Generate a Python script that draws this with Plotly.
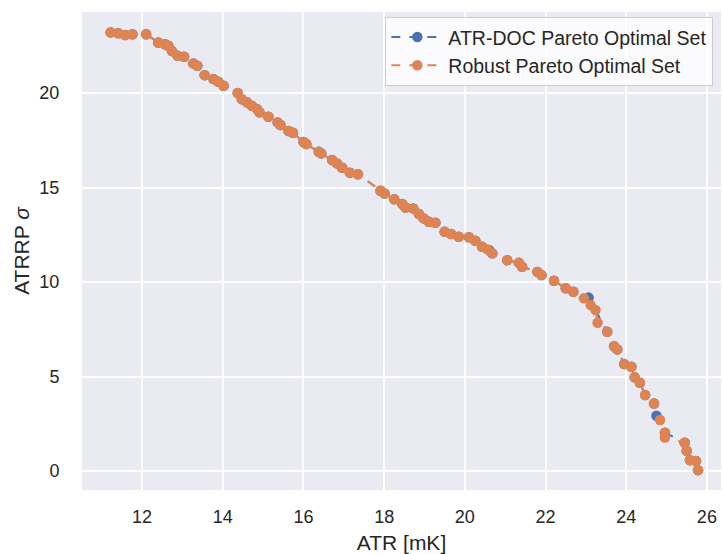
import plotly.graph_objects as go

# Robust Pareto optimal set (ATR in mK, ATRRP standard deviation)
robust_atr = [11.22, 11.41, 11.58, 11.76, 12.10, 12.40, 12.57, 12.65, 12.74, 12.88,
              13.04, 13.27, 13.37, 13.55, 13.77, 13.89, 14.02, 14.37, 14.47, 14.60,
              14.72, 14.85, 14.91, 15.13, 15.36, 15.43, 15.63, 15.74, 16.00, 16.07,
              16.38, 16.44, 16.71, 16.83, 16.96, 17.15, 17.35, 17.91, 18.01, 18.25,
              18.45, 18.53, 18.72, 18.86, 18.98, 19.11, 19.27, 19.50, 19.66, 19.85,
              20.10, 20.26, 20.43, 20.56, 20.68, 21.05, 21.34, 21.42, 21.80, 21.90,
              22.21, 22.50, 22.69, 22.95, 23.12, 23.24, 23.29, 23.53, 23.70, 23.78,
              23.95, 24.13, 24.21, 24.34, 24.47, 24.69, 24.84, 24.96, 24.96, 25.45,
              25.50, 25.58, 25.73, 25.78]
robust_sigma = [23.21, 23.16, 23.07, 23.11, 23.11, 22.68, 22.58, 22.50, 22.22, 21.97,
                21.92, 21.57, 21.44, 20.95, 20.74, 20.60, 20.39, 20.00, 19.68, 19.51,
                19.33, 19.15, 18.98, 18.75, 18.45, 18.31, 17.99, 17.90, 17.41, 17.30,
                16.89, 16.81, 16.46, 16.28, 16.05, 15.79, 15.71, 14.83, 14.69, 14.38,
                14.13, 13.95, 13.90, 13.60, 13.37, 13.19, 13.14, 12.66, 12.54, 12.40,
                12.37, 12.19, 11.87, 11.73, 11.52, 11.16, 11.02, 10.81, 10.54, 10.37,
                10.07, 9.67, 9.49, 9.14, 8.78, 8.52, 7.85, 7.37, 6.61, 6.44,
                5.66, 5.52, 4.96, 4.67, 4.02, 3.58, 2.70, 2.03, 1.78, 1.50,
                1.07, 0.58, 0.54, 0.05]

# ATR-DOC Pareto optimal set
doc_atr = [11.22, 11.41, 11.58, 11.76, 12.10, 12.40, 12.57, 12.65, 12.74, 12.88,
           13.04, 13.27, 13.37, 13.55, 13.77, 13.89, 14.02, 14.37, 14.47, 14.60,
           14.72, 14.85, 14.91, 15.13, 15.36, 15.43, 15.63, 15.74, 16.00, 16.07,
           16.38, 16.44, 16.71, 16.83, 16.96, 17.15, 17.35, 17.91, 18.01, 18.25,
           18.45, 18.53, 18.72, 18.86, 18.98, 19.11, 19.27, 19.50, 19.66, 19.85,
           20.10, 20.26, 20.43, 20.60, 20.68, 21.05, 21.34, 21.42, 21.80, 21.90,
           22.21, 22.50, 22.69, 23.07, 23.53, 23.70, 23.78, 23.95, 24.13, 24.21,
           24.34, 24.47, 24.69, 24.75, 24.96, 25.45, 25.50, 25.58, 25.73, 25.78]
doc_sigma = [23.21, 23.16, 23.07, 23.11, 23.11, 22.68, 22.58, 22.50, 22.22, 21.97,
             21.92, 21.57, 21.44, 20.95, 20.74, 20.60, 20.39, 20.00, 19.68, 19.51,
             19.33, 19.15, 18.98, 18.75, 18.45, 18.31, 17.99, 17.90, 17.41, 17.30,
             16.89, 16.81, 16.46, 16.28, 16.05, 15.79, 15.71, 14.83, 14.69, 14.38,
             14.13, 13.95, 13.90, 13.60, 13.37, 13.19, 13.14, 12.66, 12.54, 12.40,
             12.37, 12.19, 11.87, 11.70, 11.52, 11.16, 11.02, 10.81, 10.54, 10.37,
             10.07, 9.67, 9.49, 9.18, 7.37, 6.61, 6.44, 5.66, 5.52, 4.96,
             4.67, 4.02, 3.58, 2.93, 2.03, 1.50, 1.07, 0.58, 0.54, 0.05]

x_ticks = [12, 14, 16, 18, 20, 22, 24, 26]
y_ticks = [0, 5, 10, 15, 20]

BLUE = "#4C72B0"
ORANGE = "#DD8452"
FONT = "Liberation Sans, Arial, sans-serif"
TEXT = "#262626"

fig = go.Figure()
fig.add_trace(go.Scatter(
    x=doc_atr, y=doc_sigma, mode="lines+markers",
    name="ATR-DOC Pareto Optimal Set",
    line=dict(color=BLUE, width=2, dash="dash"),
    marker=dict(color=BLUE, size=10.5),
))
fig.add_trace(go.Scatter(
    x=robust_atr, y=robust_sigma, mode="lines+markers",
    name="Robust Pareto Optimal Set",
    line=dict(color=ORANGE, width=2, dash="dash"),
    marker=dict(color=ORANGE, size=10.5),
))

axis_common = dict(
    showgrid=True, gridcolor="white", gridwidth=1.5,
    zeroline=False, showline=False,
    ticks="outside", tickcolor="rgba(0,0,0,0)",
    tickfont=dict(family=FONT, size=18, color=TEXT),
    title_font=dict(family=FONT, size=21, color=TEXT),
)

fig.update_layout(
    width=722, height=554,
    margin=dict(l=82, r=1, t=12, b=64),
    paper_bgcolor="white",
    plot_bgcolor="#EAEAF2",
    font=dict(family=FONT, color=TEXT),
    xaxis=dict(range=[10.51, 26.35], tickvals=x_ticks, ticklen=10,
               title=dict(text="ATR [mK]", standoff=9), **axis_common),
    yaxis=dict(range=[-1.0, 24.29], tickvals=y_ticks, ticklen=18,
               title=dict(text="ATRRP <i>σ</i>", standoff=4), **axis_common),
    legend=dict(
        x=0.988, y=0.99, xanchor="right", yanchor="top",
        bgcolor="rgba(255,255,255,0.8)", bordercolor="#CCCCCC", borderwidth=1,
        font=dict(family=FONT, size=19.5, color=TEXT),
        itemwidth=52, tracegroupgap=0,
    ),
    showlegend=True,
)

fig.write_html("out.html")
